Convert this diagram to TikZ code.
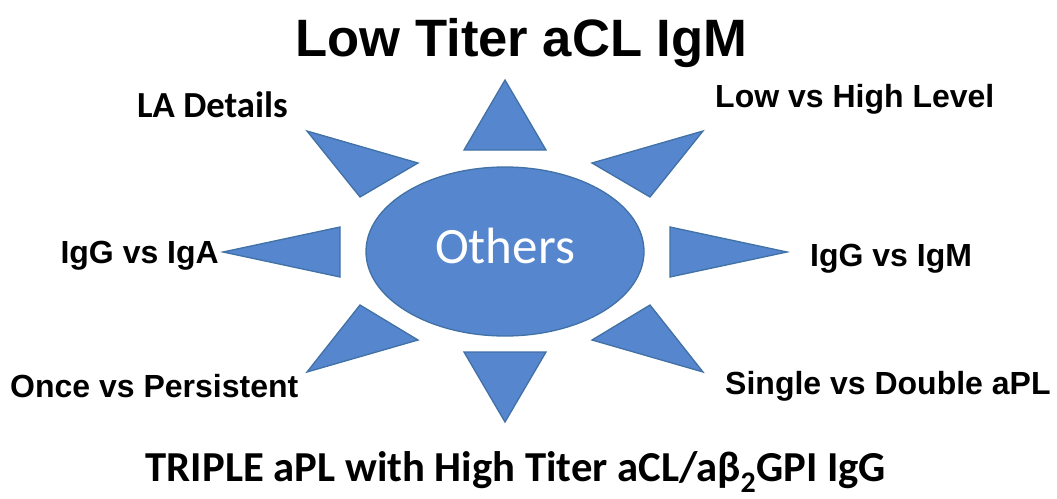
\documentclass[tikz,border=0pt]{standalone}
\usepackage{fontspec}
\setmainfont{Liberation Sans}
\newfontfamily\carlito{Carlito}
\usetikzlibrary{shapes.geometric}
\definecolor{sunfill}{RGB}{85,134,206}
\definecolor{sunline}{RGB}{65,113,165}
\tikzset{
  ray/.style={fill=sunfill, draw=sunline, line width=1.3pt, line join=miter},
  sidelabel/.style={font=\fontsize{32}{38}\selectfont\bfseries, inner sep=0pt},
}
\begin{document}
\begin{tikzpicture}[x=1pt, y=-1pt, every node/.style={anchor=base}]
  \useasboundingbox (0,0) rectangle (1057,498);
  \node[ellipse, ray, anchor=center, minimum width=278pt, minimum height=169pt,
        text=white, text depth=11pt, font=\carlito\fontsize{51}{60}\selectfont] (others) at (505,251.5) {Others};
  % rays round the centre
  \foreach \a/\b/\c in {{505,80}/{464,150}/{546,150},
                        {505,422}/{464,352}/{546,352},
                        {223,252}/{340,227}/{340,277},
                        {787,252}/{670,227}/{670,277},
                        {307,131}/{418,163}/{360,197},
                        {703,131}/{592,163}/{650,197},
                        {360,305}/{418,340}/{307,372},
                        {650,305}/{592,340}/{703,372}}
    \draw[ray] (\a) -- (\b) -- (\c) -- cycle;
  \node[font=\fontsize{52.6}{60}\selectfont\bfseries] (title) at (521.5,56) {Low Titer aCL IgM};
  \node[sidelabel, font=\carlito\fontsize{36.7}{44}\selectfont\bfseries, anchor=base west] (la) at (137,117) {LA Details};
  \node[sidelabel, anchor=base west] (level) at (715,107) {Low vs High Level};
  \node[sidelabel, anchor=base east] (iga) at (219,263) {IgG vs IgA};
  \node[sidelabel, anchor=base west] (igm) at (810,266) {IgG vs IgM};
  \node[sidelabel, anchor=base west] (once) at (10,397) {Once vs Persistent};
  \node[sidelabel, anchor=base west] (single) at (725,394) {Single vs Double aPL};
  \node[font=\carlito\fontsize{42.7}{50}\selectfont\bfseries, inner sep=1pt] (triple) at (516,481)
    {TRIPLE aPL with High Titer aCL/aβ\textsubscript{2}GPI IgG};
\end{tikzpicture}
\end{document}
